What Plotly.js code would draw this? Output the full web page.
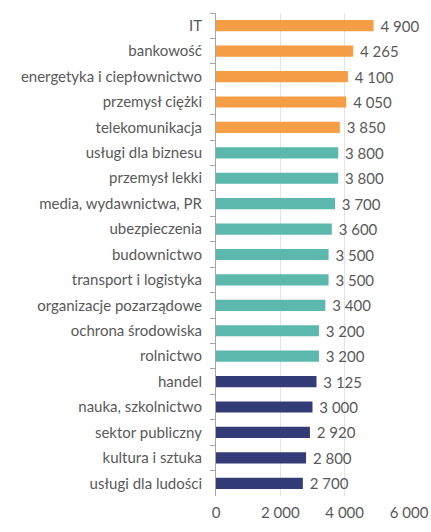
<!DOCTYPE html>
<html><head><meta charset="utf-8">
<script src="https://cdn.plot.ly/plotly-3.0.1.min.js"></script>
<style>html,body{margin:0;padding:0;background:#fff}#chart{width:431px;height:532px}</style>
</head><body><div id="chart"></div>
<script>
const categories = ["IT","bankowość","energetyka i ciepłownictwo","przemysł ciężki","telekomunikacja","usługi dla biznesu","przemysł lekki","media, wydawnictwa, PR","ubezpieczenia","budownictwo","transport i logistyka","organizacje pozarządowe","ochrona środowiska","rolnictwo","handel","nauka, szkolnictwo","sektor publiczny","kultura i sztuka","usługi dla ludości"];
const values = [4900,4265,4100,4050,3850,3800,3800,3700,3600,3500,3500,3400,3200,3200,3125,3000,2920,2800,2700];
const groups = ["o","o","o","o","o","t","t","t","t","t","t","t","t","t","n","n","n","n","n"];
const palette = {o:"#F59E46", t:"#5CB8AD", n:"#343C78"};
const tickVals = [0,2000,4000,6000];
const tickText = ["0","2 000","4 000","6 000"];
const fmt = v => "\u00a0" + String(v).replace(/\B(?=(\d{3})+(?!\d))/g, " ");
const trace = {
  type:"bar", orientation:"h",
  y: categories, x: values,
  marker:{color: groups.map(g=>palette[g])},
  text: values.map(fmt), textposition:"outside", cliponaxis:false, constraintext:"none",
  textfont:{family:"Lato, 'Open Sans', sans-serif", size:15, color:"#595959"},
  hoverinfo:"none"
};
const layout = {
  width:431, height:532,
  margin:{l:216, r:22, t:13, b:36},
  paper_bgcolor:"#fff", plot_bgcolor:"#fff",
  bargap:0.56,
  showlegend:false,
  font:{family:"Lato, 'Open Sans', sans-serif", size:15, color:"#595959"},
  xaxis:{range:[0,6000], tickvals:tickVals, ticktext:tickText, showgrid:true, gridcolor:"#E3E3E3", gridwidth:1, zeroline:false, showline:false, ticks:"", tickfont:{size:15,color:"#595959"}, ticklabelstandoff:6},
  yaxis:{type:"category", categoryorder:"array", categoryarray:categories, autorange:"reversed", showline:true, linecolor:"#A6A6A6", linewidth:1, ticks:"outside", tickson:"boundaries", ticklen:5, tickcolor:"#A6A6A6", showgrid:false, ticklabelstandoff:10, tickfont:{size:15,color:"#595959"}}
};
Plotly.newPlot("chart",[trace],layout,{staticPlot:true});
</script></body></html>
